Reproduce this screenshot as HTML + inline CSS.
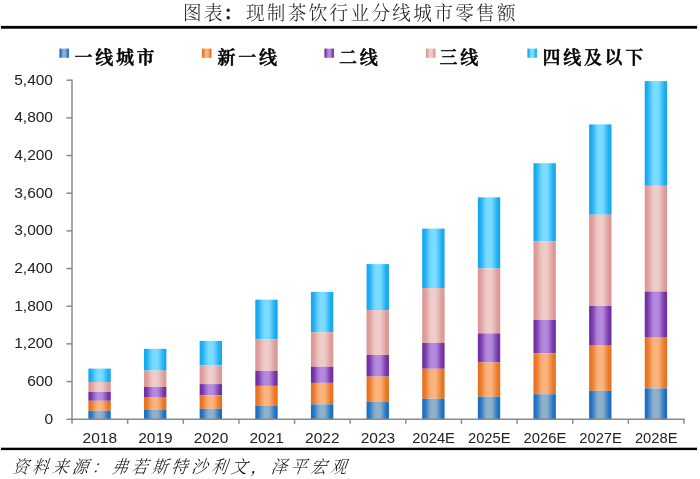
<!DOCTYPE html>
<html lang="zh-CN">
<head>
<meta charset="utf-8">
<title>图表：现制茶饮行业分线城市零售额</title>
<style>
html,body{margin:0;padding:0;background:#fff;}
body{width:700px;height:479px;position:relative;overflow:hidden;font-family:"Liberation Sans","Noto Sans CJK SC",sans-serif;}
.title{position:absolute;left:0;top:0;width:700px;text-align:center;font-family:"Liberation Serif","Noto Serif CJK SC",serif;font-weight:300;font-size:18.6px;line-height:27.6px;letter-spacing:2.33px;text-indent:1px;color:#1a1a1a;white-space:nowrap;transform:scaleY(1.06);transform-origin:50% 50%;}
.rule{position:absolute;left:1px;width:696px;background:#000;}
.src{position:absolute;left:9px;top:453px;font-family:"Liberation Serif","Noto Serif CJK SC",serif;font-weight:300;font-size:17.6px;letter-spacing:4.0px;line-height:28px;color:#111;white-space:nowrap;transform:skewX(-20deg) scaleX(0.92);transform-origin:0 100%;}
svg{position:absolute;left:0;top:0;}
.ax{font-family:"Liberation Sans",sans-serif;font-size:15.5px;letter-spacing:0px;fill:#222;}
.lg{font-family:"Liberation Serif","Noto Serif CJK SC",serif;font-weight:600;font-size:18px;letter-spacing:2.7px;fill:#000;stroke:#000;stroke-width:0.5px;stroke-linejoin:round;}
</style>
</head>
<body>
<div class="title">图表<span style="font-weight:700;position:relative;left:-1.6px">：</span>现制茶饮行业分线城市零售额</div>
<svg width="700" height="479" viewBox="0 0 700 479">
<defs>
<linearGradient id="glb" x1="0" y1="0" x2="1" y2="0"><stop offset="0.00" stop-color="#16a8f0"/><stop offset="0.05" stop-color="#16a8f0"/><stop offset="0.10" stop-color="#1cabf1"/><stop offset="0.15" stop-color="#29b2f3"/><stop offset="0.20" stop-color="#39baf5"/><stop offset="0.25" stop-color="#4cc4f8"/><stop offset="0.30" stop-color="#5ecdfb"/><stop offset="0.35" stop-color="#6dd5fd"/><stop offset="0.40" stop-color="#77dbff"/><stop offset="0.45" stop-color="#7adcff"/><stop offset="0.50" stop-color="#7adcff"/><stop offset="0.55" stop-color="#7adcff"/><stop offset="0.60" stop-color="#77dbff"/><stop offset="0.65" stop-color="#6dd5fd"/><stop offset="0.70" stop-color="#5ecdfb"/><stop offset="0.75" stop-color="#4cc4f8"/><stop offset="0.80" stop-color="#39baf5"/><stop offset="0.85" stop-color="#29b2f3"/><stop offset="0.90" stop-color="#1cabf1"/><stop offset="0.95" stop-color="#16a8f0"/><stop offset="1.00" stop-color="#16a8f0"/></linearGradient>
<linearGradient id="gpk" x1="0" y1="0" x2="1" y2="0"><stop offset="0.00" stop-color="#db9896"/><stop offset="0.05" stop-color="#db9896"/><stop offset="0.10" stop-color="#dc9b99"/><stop offset="0.15" stop-color="#dfa29f"/><stop offset="0.20" stop-color="#e2aaa8"/><stop offset="0.25" stop-color="#e6b4b1"/><stop offset="0.30" stop-color="#e9bdba"/><stop offset="0.35" stop-color="#ecc5c2"/><stop offset="0.40" stop-color="#eecbc7"/><stop offset="0.45" stop-color="#efccc8"/><stop offset="0.50" stop-color="#efccc8"/><stop offset="0.55" stop-color="#efccc8"/><stop offset="0.60" stop-color="#eecbc7"/><stop offset="0.65" stop-color="#ecc5c2"/><stop offset="0.70" stop-color="#e9bdba"/><stop offset="0.75" stop-color="#e6b4b1"/><stop offset="0.80" stop-color="#e2aaa8"/><stop offset="0.85" stop-color="#dfa29f"/><stop offset="0.90" stop-color="#dc9b99"/><stop offset="0.95" stop-color="#db9896"/><stop offset="1.00" stop-color="#db9896"/></linearGradient>
<linearGradient id="gpu" x1="0" y1="0" x2="1" y2="0"><stop offset="0.00" stop-color="#6f2fa3"/><stop offset="0.05" stop-color="#6f2fa3"/><stop offset="0.10" stop-color="#7335a7"/><stop offset="0.15" stop-color="#7c40ae"/><stop offset="0.20" stop-color="#884fb8"/><stop offset="0.25" stop-color="#9560c3"/><stop offset="0.30" stop-color="#a170cd"/><stop offset="0.35" stop-color="#ac7ed6"/><stop offset="0.40" stop-color="#b387dc"/><stop offset="0.45" stop-color="#b58ade"/><stop offset="0.50" stop-color="#b58ade"/><stop offset="0.55" stop-color="#b58ade"/><stop offset="0.60" stop-color="#b387dc"/><stop offset="0.65" stop-color="#ac7ed6"/><stop offset="0.70" stop-color="#a170cd"/><stop offset="0.75" stop-color="#9560c3"/><stop offset="0.80" stop-color="#884fb8"/><stop offset="0.85" stop-color="#7c40ae"/><stop offset="0.90" stop-color="#7335a7"/><stop offset="0.95" stop-color="#6f2fa3"/><stop offset="1.00" stop-color="#6f2fa3"/></linearGradient>
<linearGradient id="gor" x1="0" y1="0" x2="1" y2="0"><stop offset="0.00" stop-color="#e8721e"/><stop offset="0.05" stop-color="#e8721e"/><stop offset="0.10" stop-color="#e97624"/><stop offset="0.15" stop-color="#eb7e30"/><stop offset="0.20" stop-color="#ee8940"/><stop offset="0.25" stop-color="#f29552"/><stop offset="0.30" stop-color="#f5a163"/><stop offset="0.35" stop-color="#f8ab72"/><stop offset="0.40" stop-color="#f9b27b"/><stop offset="0.45" stop-color="#fab47e"/><stop offset="0.50" stop-color="#fab47e"/><stop offset="0.55" stop-color="#fab47e"/><stop offset="0.60" stop-color="#f9b27b"/><stop offset="0.65" stop-color="#f8ab72"/><stop offset="0.70" stop-color="#f5a163"/><stop offset="0.75" stop-color="#f29552"/><stop offset="0.80" stop-color="#ee8940"/><stop offset="0.85" stop-color="#eb7e30"/><stop offset="0.90" stop-color="#e97624"/><stop offset="0.95" stop-color="#e8721e"/><stop offset="1.00" stop-color="#e8721e"/></linearGradient>
<linearGradient id="gbl" x1="0" y1="0" x2="1" y2="0"><stop offset="0.00" stop-color="#1a6ec4"/><stop offset="0.05" stop-color="#1a6ec4"/><stop offset="0.10" stop-color="#2172c4"/><stop offset="0.15" stop-color="#307ac5"/><stop offset="0.20" stop-color="#4486c6"/><stop offset="0.25" stop-color="#5992c7"/><stop offset="0.30" stop-color="#6f9ec8"/><stop offset="0.35" stop-color="#81a8c9"/><stop offset="0.40" stop-color="#8dafca"/><stop offset="0.45" stop-color="#90b1ca"/><stop offset="0.50" stop-color="#90b1ca"/><stop offset="0.55" stop-color="#90b1ca"/><stop offset="0.60" stop-color="#8dafca"/><stop offset="0.65" stop-color="#81a8c9"/><stop offset="0.70" stop-color="#6f9ec8"/><stop offset="0.75" stop-color="#5992c7"/><stop offset="0.80" stop-color="#4486c6"/><stop offset="0.85" stop-color="#307ac5"/><stop offset="0.90" stop-color="#2172c4"/><stop offset="0.95" stop-color="#1a6ec4"/><stop offset="1.00" stop-color="#1a6ec4"/></linearGradient>
</defs>
<rect x="0.9" y="25.9" width="696.2" height="2.8" fill="#000"/>
<rect x="0.9" y="447.7" width="696.2" height="2.4" fill="#000"/>
<rect x="59.4" y="48.6" width="9.5" height="9.2" fill="url(#gbl)"/>
<text class="lg" x="74.5" y="64">一线城市</text>
<rect x="202" y="48.6" width="9.5" height="9.2" fill="url(#gor)"/>
<text class="lg" x="217.5" y="64">新一线</text>
<rect x="324.4" y="48.6" width="9.5" height="9.2" fill="url(#gpu)"/>
<text class="lg" x="339.1" y="64">二线</text>
<rect x="426" y="48.6" width="9.5" height="9.2" fill="url(#gpk)"/>
<text class="lg" x="439.5" y="64">三线</text>
<rect x="527.4" y="48.6" width="9.5" height="9.2" fill="url(#glb)"/>
<text class="lg" x="542.5" y="64">四线及以下</text>
<rect x="88.37" y="368.60" width="22.4" height="13.40" fill="url(#glb)"/>
<rect x="88.37" y="382.00" width="22.4" height="10.00" fill="url(#gpk)"/>
<rect x="88.37" y="392.00" width="22.4" height="8.80" fill="url(#gpu)"/>
<rect x="88.37" y="400.80" width="22.4" height="10.00" fill="url(#gor)"/>
<rect x="88.37" y="410.80" width="22.4" height="8.40" fill="url(#gbl)"/>
<rect x="144.00" y="348.80" width="22.4" height="21.80" fill="url(#glb)"/>
<rect x="144.00" y="370.60" width="22.4" height="16.40" fill="url(#gpk)"/>
<rect x="144.00" y="387.00" width="22.4" height="10.00" fill="url(#gpu)"/>
<rect x="144.00" y="397.00" width="22.4" height="12.40" fill="url(#gor)"/>
<rect x="144.00" y="409.40" width="22.4" height="9.80" fill="url(#gbl)"/>
<rect x="199.64" y="340.90" width="22.4" height="24.30" fill="url(#glb)"/>
<rect x="199.64" y="365.20" width="22.4" height="18.90" fill="url(#gpk)"/>
<rect x="199.64" y="384.10" width="22.4" height="11.10" fill="url(#gpu)"/>
<rect x="199.64" y="395.20" width="22.4" height="13.60" fill="url(#gor)"/>
<rect x="199.64" y="408.80" width="22.4" height="10.40" fill="url(#gbl)"/>
<rect x="255.28" y="299.70" width="22.4" height="39.70" fill="url(#glb)"/>
<rect x="255.28" y="339.40" width="22.4" height="31.50" fill="url(#gpk)"/>
<rect x="255.28" y="370.90" width="22.4" height="15.00" fill="url(#gpu)"/>
<rect x="255.28" y="385.90" width="22.4" height="19.60" fill="url(#gor)"/>
<rect x="255.28" y="405.50" width="22.4" height="13.70" fill="url(#gbl)"/>
<rect x="310.91" y="291.90" width="22.4" height="40.30" fill="url(#glb)"/>
<rect x="310.91" y="332.20" width="22.4" height="34.50" fill="url(#gpk)"/>
<rect x="310.91" y="366.70" width="22.4" height="16.20" fill="url(#gpu)"/>
<rect x="310.91" y="382.90" width="22.4" height="21.40" fill="url(#gor)"/>
<rect x="310.91" y="404.30" width="22.4" height="14.90" fill="url(#gbl)"/>
<rect x="366.55" y="264.10" width="22.4" height="46.00" fill="url(#glb)"/>
<rect x="366.55" y="310.10" width="22.4" height="44.90" fill="url(#gpk)"/>
<rect x="366.55" y="355.00" width="22.4" height="21.60" fill="url(#gpu)"/>
<rect x="366.55" y="376.60" width="22.4" height="25.30" fill="url(#gor)"/>
<rect x="366.55" y="401.90" width="22.4" height="17.30" fill="url(#gbl)"/>
<rect x="422.19" y="228.60" width="22.4" height="59.50" fill="url(#glb)"/>
<rect x="422.19" y="288.10" width="22.4" height="54.80" fill="url(#gpk)"/>
<rect x="422.19" y="342.90" width="22.4" height="25.90" fill="url(#gpu)"/>
<rect x="422.19" y="368.80" width="22.4" height="30.00" fill="url(#gor)"/>
<rect x="422.19" y="398.80" width="22.4" height="20.40" fill="url(#gbl)"/>
<rect x="477.82" y="197.30" width="22.4" height="71.20" fill="url(#glb)"/>
<rect x="477.82" y="268.50" width="22.4" height="64.90" fill="url(#gpk)"/>
<rect x="477.82" y="333.40" width="22.4" height="29.10" fill="url(#gpu)"/>
<rect x="477.82" y="362.50" width="22.4" height="34.20" fill="url(#gor)"/>
<rect x="477.82" y="396.70" width="22.4" height="22.50" fill="url(#gbl)"/>
<rect x="533.46" y="163.20" width="22.4" height="78.20" fill="url(#glb)"/>
<rect x="533.46" y="241.40" width="22.4" height="78.50" fill="url(#gpk)"/>
<rect x="533.46" y="319.90" width="22.4" height="33.40" fill="url(#gpu)"/>
<rect x="533.46" y="353.30" width="22.4" height="40.90" fill="url(#gor)"/>
<rect x="533.46" y="394.20" width="22.4" height="25.00" fill="url(#gbl)"/>
<rect x="589.10" y="124.40" width="22.4" height="90.30" fill="url(#glb)"/>
<rect x="589.10" y="214.70" width="22.4" height="91.30" fill="url(#gpk)"/>
<rect x="589.10" y="306.00" width="22.4" height="39.00" fill="url(#gpu)"/>
<rect x="589.10" y="345.00" width="22.4" height="45.80" fill="url(#gor)"/>
<rect x="589.10" y="390.80" width="22.4" height="28.40" fill="url(#gbl)"/>
<rect x="644.73" y="81.10" width="22.4" height="104.70" fill="url(#glb)"/>
<rect x="644.73" y="185.80" width="22.4" height="105.70" fill="url(#gpk)"/>
<rect x="644.73" y="291.50" width="22.4" height="45.50" fill="url(#gpu)"/>
<rect x="644.73" y="337.00" width="22.4" height="51.40" fill="url(#gor)"/>
<rect x="644.73" y="388.40" width="22.4" height="30.80" fill="url(#gbl)"/>
<g stroke="#8a8a8a" stroke-width="1.5" fill="none">
<path d="M72.0 79.45 V423.8"/>
<path d="M66.5 419.2 H684.75"/>
<path d="M66.5 381.53 H72.0"/>
<path d="M66.5 343.87 H72.0"/>
<path d="M66.5 306.20 H72.0"/>
<path d="M66.5 268.53 H72.0"/>
<path d="M66.5 230.87 H72.0"/>
<path d="M66.5 193.20 H72.0"/>
<path d="M66.5 155.53 H72.0"/>
<path d="M66.5 117.87 H72.0"/>
<path d="M66.5 80.20 H72.0"/>
<path d="M127.64 419.2 V423.8"/>
<path d="M183.27 419.2 V423.8"/>
<path d="M238.91 419.2 V423.8"/>
<path d="M294.55 419.2 V423.8"/>
<path d="M350.18 419.2 V423.8"/>
<path d="M405.82 419.2 V423.8"/>
<path d="M461.45 419.2 V423.8"/>
<path d="M517.09 419.2 V423.8"/>
<path d="M572.73 419.2 V423.8"/>
<path d="M628.36 419.2 V423.8"/>
<path d="M684.00 419.2 V423.8"/>
</g>
<text class="ax" x="53.0" y="423.80" text-anchor="end">0</text>
<text class="ax" x="53.0" y="386.13" text-anchor="end">600</text>
<text class="ax" x="53.0" y="348.47" text-anchor="end">1,200</text>
<text class="ax" x="53.0" y="310.80" text-anchor="end">1,800</text>
<text class="ax" x="53.0" y="273.13" text-anchor="end">2,400</text>
<text class="ax" x="53.0" y="235.47" text-anchor="end">3,000</text>
<text class="ax" x="53.0" y="197.80" text-anchor="end">3,600</text>
<text class="ax" x="53.0" y="160.13" text-anchor="end">4,200</text>
<text class="ax" x="53.0" y="122.47" text-anchor="end">4,800</text>
<text class="ax" x="53.0" y="84.80" text-anchor="end">5,400</text>
<text class="ax" x="99.82" y="443.0" text-anchor="middle">2018</text>
<text class="ax" x="155.45" y="443.0" text-anchor="middle">2019</text>
<text class="ax" x="211.09" y="443.0" text-anchor="middle">2020</text>
<text class="ax" x="266.73" y="443.0" text-anchor="middle">2021</text>
<text class="ax" x="322.36" y="443.0" text-anchor="middle">2022</text>
<text class="ax" x="378.00" y="443.0" text-anchor="middle">2023</text>
<text class="ax" x="433.64" y="443.0" text-anchor="middle" textLength="42.6" lengthAdjust="spacingAndGlyphs">2024E</text>
<text class="ax" x="489.27" y="443.0" text-anchor="middle" textLength="42.6" lengthAdjust="spacingAndGlyphs">2025E</text>
<text class="ax" x="544.91" y="443.0" text-anchor="middle" textLength="42.6" lengthAdjust="spacingAndGlyphs">2026E</text>
<text class="ax" x="600.55" y="443.0" text-anchor="middle" textLength="42.6" lengthAdjust="spacingAndGlyphs">2027E</text>
<text class="ax" x="656.18" y="443.0" text-anchor="middle" textLength="42.6" lengthAdjust="spacingAndGlyphs">2028E</text>
</svg>
<div class="src">资料来源：弗若斯特沙利文，泽平宏观</div>
</body>
</html>
